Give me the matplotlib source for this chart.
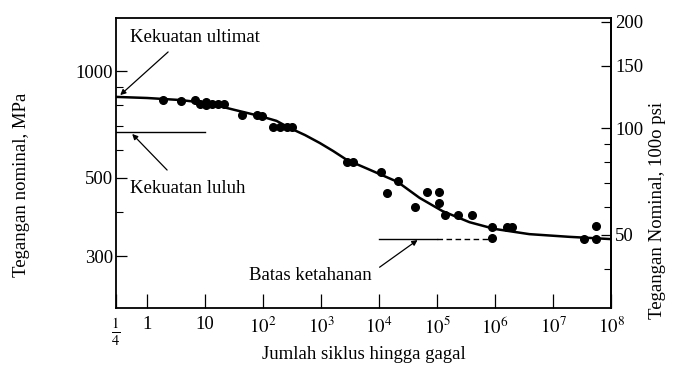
"""
S-N curve (Wöhler diagram): nominal stress vs. number of cycles to failure.

python plot.py  ->  out.png
"""

import matplotlib
matplotlib.use("Agg")

import matplotlib.pyplot as plt
from matplotlib.ticker import FixedLocator, NullFormatter, NullLocator

plt.rcParams["font.family"] = ["Liberation Serif", "DejaVu Serif"]
plt.rcParams["mathtext.fontset"] = "stix"

MPA_PER_KSI = 6.895

# test points: cycles to failure, nominal stress (MPa)
cycles = [1.9, 3.85, 6.7, 8.2, 10.4, 10.4, 13.1, 16.7, 21, 43, 78, 95,
          148, 195, 257, 313, 2770, 3510, 10660, 20900, 13500, 41000,
          65900, 110000, 106000, 135000, 234000, 408000, 900000, 900000,
          1.63e6, 1.99e6, 3.46e7, 5.56e7, 5.56e7]
stress = [828, 822, 828, 807, 817, 802, 807, 807, 807, 751, 751, 746,
          695, 695, 695, 695, 553, 553, 519, 489, 452, 413,
          455, 455, 424, 392, 392, 392, 362, 337,
          362, 362, 335, 335, 365]

# fitted S-N curve
curve_n = [0.29, 1, 3.7, 10.8, 32.7, 88, 170, 289, 530, 950, 1620, 2770,
           6370, 20900, 50000, 124000, 362000, 977000, 3.9e6, 1.9e7, 1e8]
curve_s = [845, 839, 828, 812, 776, 746, 723, 690, 659, 626, 594, 561,
           529, 486, 438, 402, 374, 358, 346, 340, 335]

yield_strength = 672
endurance = 335

x_ticks = [0.29, 1, 10, 1e2, 1e3, 1e4, 1e5, 1e6, 1e7, 1e8]
x_labels = [r"$\frac{1}{4}$", "1", "10", r"$10^2$", r"$10^3$", r"$10^4$",
            r"$10^5$", r"$10^6$", r"$10^7$", r"$10^8$"]
y_major = [300, 500, 1000]
y_minor = [400, 600, 700, 800, 900]
ksi_major = [50, 100, 150, 200]
ksi_minor = [40, 60, 70, 80, 90]

FS = 13.5


def main():
    fig = plt.figure(figsize=(6.83, 3.70), dpi=100, facecolor="white")
    ax = fig.add_axes([0.1698, 0.1676, 0.7248, 0.7838])

    ax.set_xscale("log")
    ax.set_yscale("log")
    ax.set_xlim(0.29, 1e8)
    ax.set_ylim(214, 1412)

    for spine in ax.spines.values():
        spine.set_linewidth(1.3)

    # curve and data
    ax.plot(curve_n, curve_s, color="black", lw=1.8, zorder=3,
            solid_joinstyle="round")
    ax.plot(cycles, stress, "o", color="black", ms=5.5, zorder=4)

    # yield strength line
    ax.plot([0.29, 10], [yield_strength, yield_strength], color="black", lw=1.0)
    # endurance limit line
    ax.plot([1e4, 1e5], [endurance, endurance], color="black", lw=1.0)
    ax.plot([1e5, 1e6], [endurance, endurance], color="black", lw=1.0,
            dashes=(4, 2.5))

    arrow = dict(arrowstyle="-|>", color="black", lw=0.9, mutation_scale=8,
                 shrinkA=0, shrinkB=0)
    ax.annotate("", xy=(0.343, 855), xytext=(2.3, 1132), arrowprops=arrow)
    ax.text(0.51, 1247, "Kekuatan ultimat", fontsize=FS, ha="left", va="center")

    ax.annotate("", xy=(0.552, 664), xytext=(2.21, 525), arrowprops=arrow)
    ax.text(0.51, 467, "Kekuatan luluh", fontsize=FS, ha="left", va="center")

    ax.annotate("", xy=(46100, 333), xytext=(10200, 279), arrowprops=arrow)
    ax.text(7460, 264, "Batas ketahanan", fontsize=FS, ha="right", va="center")

    # x axis
    ax.xaxis.set_major_locator(FixedLocator(x_ticks))
    ax.set_xticklabels(x_labels)
    ax.xaxis.set_minor_locator(NullLocator())
    ax.tick_params(axis="x", direction="in", length=10, width=0.9,
                   labelsize=FS, pad=6)
    ax.get_xticklabels()[0].set_fontsize(15)

    # left y axis (MPa)
    ax.yaxis.set_major_locator(FixedLocator(y_major))
    ax.set_yticklabels([str(v) for v in y_major])
    ax.yaxis.set_minor_locator(FixedLocator(y_minor))
    ax.yaxis.set_minor_formatter(NullFormatter())
    ax.tick_params(axis="y", which="major", direction="in", length=8,
                   width=0.9, labelsize=FS, pad=2)
    ax.tick_params(axis="y", which="minor", direction="in", length=5,
                   width=0.8)

    # right y axis (1000 psi)
    sec = ax.secondary_yaxis("right", functions=(lambda m: m / MPA_PER_KSI,
                                                 lambda k: k * MPA_PER_KSI))
    sec.yaxis.set_major_locator(FixedLocator(ksi_major))
    sec.set_yticklabels([str(v) for v in ksi_major])
    sec.yaxis.set_minor_locator(FixedLocator(ksi_minor))
    sec.yaxis.set_minor_formatter(NullFormatter())
    sec.tick_params(which="major", direction="in", length=7, width=0.9,
                    labelsize=FS, pad=3)
    sec.tick_params(which="minor", direction="in", length=5, width=0.8)
    sec.spines["right"].set_linewidth(1.3)

    # axis titles
    ax.set_xlabel("Jumlah siklus hingga gagal", fontsize=FS)
    ax.xaxis.set_label_coords(0.5, -0.13)
    fig.text(22 / 683, 1 - 185 / 370, "Tegangan nominal, MPa", fontsize=FS,
             rotation=90, ha="center", va="center")
    fig.text(657 / 683, 1 - 210 / 370, "Tegangan Nominal, 100o psi",
             fontsize=FS, rotation=90, ha="center", va="center")

    fig.savefig("out.png", dpi=100, facecolor="white")
    plt.close(fig)


if __name__ == "__main__":
    main()
